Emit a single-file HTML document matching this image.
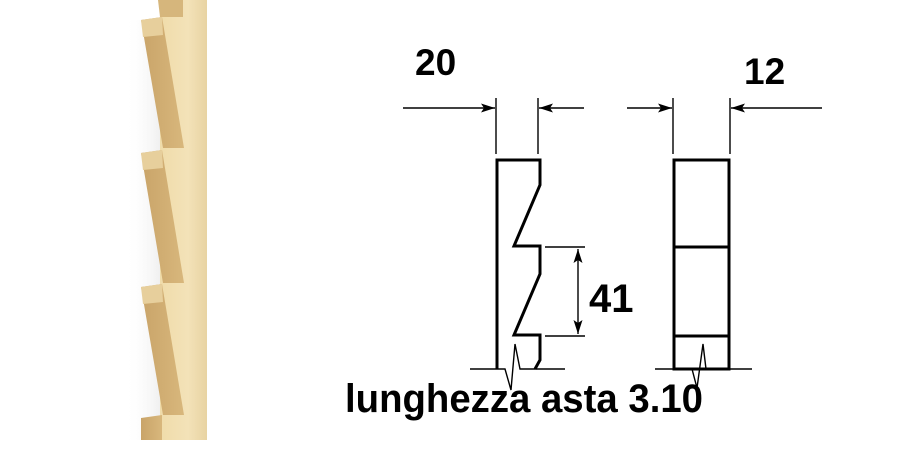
<!DOCTYPE html>
<html><head><meta charset="utf-8"><style>
html,body{margin:0;padding:0;background:#fff;}
svg{display:block;}
text{font-family:"Liberation Sans",Arial,sans-serif;font-weight:bold;fill:#000;}
</style></head><body>
<svg width="909" height="450" viewBox="0 0 909 450" xmlns="http://www.w3.org/2000/svg">
<defs>
<linearGradient id="body" x1="0" x2="1" y1="0" y2="0">
<stop offset="0" stop-color="#f0dcaa"/><stop offset="0.6" stop-color="#f3e2b8"/><stop offset="1" stop-color="#e8d3a2"/>
</linearGradient>
<linearGradient id="face" x1="0" x2="1" y1="0" y2="0">
<stop offset="0" stop-color="#c9a469"/><stop offset="1" stop-color="#d8b77c"/>
</linearGradient>
<linearGradient id="shadow" x1="0" x2="1">
<stop offset="0" stop-color="#fff" stop-opacity="0"/><stop offset="1" stop-color="#ccc" stop-opacity="0.6"/>
</linearGradient>
<marker id="ah" viewBox="0 0 14 10" refX="14" refY="5" markerWidth="14" markerHeight="10" orient="auto-start-reverse" markerUnits="userSpaceOnUse">
<path d="M0,0.5 L14,5 L0,9.5 L3,5 z" fill="#000"/>
</marker>
</defs>
<!-- wood photo -->
<rect x="125" y="20" width="35" height="420" fill="url(#shadow)" opacity="0.5"/>
<rect x="160" y="0" width="47" height="440" fill="url(#body)"/>
<polygon points="158,0 183,0 183,17 160,17" fill="#d6b67c"/>
<g fill="url(#face)">
<polygon points="141,20 162,17 184,148 163,148"/>
<polygon points="141,153 162,150 184,283 163,283"/>
<polygon points="141,287 162,284 184,415 163,415"/>
<polygon points="141,418 162,415 162,440 141,440"/>
</g>
<g fill="#e7cf9c">
<polygon points="141,20 162,17 163,35 143,37"/>
<polygon points="141,153 162,150 163,168 143,170"/>
<polygon points="141,287 162,284 163,302 143,304"/>
</g>
<!-- dimensions top -->
<g stroke="#000" stroke-width="1.4" fill="none">
<line x1="403" y1="108" x2="495" y2="108" marker-end="url(#ah)"/>
<line x1="584" y1="108" x2="539" y2="108" marker-end="url(#ah)"/>
<line x1="496" y1="98" x2="496" y2="154"/>
<line x1="538" y1="98" x2="538" y2="154"/>
<line x1="627" y1="108" x2="672" y2="108" marker-end="url(#ah)"/>
<line x1="822" y1="108" x2="731" y2="108" marker-end="url(#ah)"/>
<line x1="673" y1="98" x2="673" y2="154"/>
<line x1="730" y1="98" x2="730" y2="154"/>
<line x1="545" y1="247" x2="585" y2="247"/>
<line x1="545" y1="336" x2="585" y2="336"/>
<line x1="578" y1="249" x2="578" y2="334" marker-start="url(#ah)" marker-end="url(#ah)"/>
<polyline points="470,369 505,369 511,390 515,344 520,369 565,369"/>
<polyline points="655,369 692,369 697,388 703,344 706,369 752,369"/>
</g>
<g stroke="#000" stroke-width="3" fill="none" stroke-linejoin="miter">
<polyline points="497,369 497,160 540,160 540,185 514,246 540,246 540,274 514,335 540,335 540,360 535,369"/>
<rect x="674" y="160" width="55" height="209"/>
<line x1="674" y1="247" x2="729" y2="247"/>
<line x1="674" y1="336" x2="729" y2="336"/>
</g>
<text x="415" y="75" font-size="37">20</text>
<text x="744" y="84" font-size="37">12</text>
<text x="589" y="312" font-size="40">41</text>
<text x="345" y="412" font-size="40" textLength="358" lengthAdjust="spacingAndGlyphs">lunghezza asta 3.10</text>
</svg>
</body></html>
